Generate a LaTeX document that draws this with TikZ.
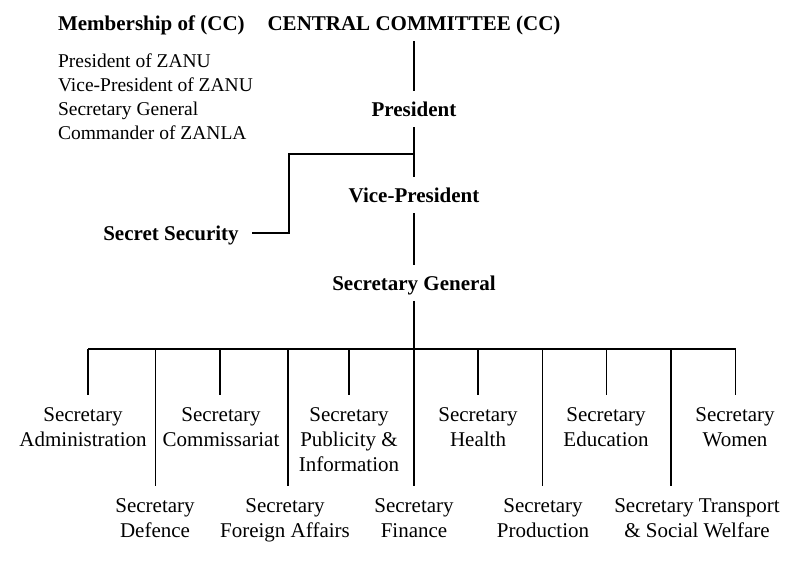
\documentclass[tikz,border=0pt]{standalone}
\usepackage{fontspec}
\setmainfont{Liberation Serif}
\usetikzlibrary{calc,positioning}
\tikzset{
	head/.style={font=\bfseries\fontsize{21}{24}\selectfont, anchor=base, text height=14.5pt, text depth=0pt, inner xsep=2pt, inner ysep=10pt},
	post/.style={font=\fontsize{21}{25}\selectfont, align=center, anchor=north, inner xsep=2pt, inner ysep=12pt},
	member/.style={font=\fontsize{19.5}{24}\selectfont, align=left, anchor=north west, inner sep=0pt},
}

\begin{document}
\begin{tikzpicture}[x=1pt, y=-1pt, line width=1.5pt]
		\useasboundingbox (0,0) rectangle (800,563);

		% membership list
		\node[head, anchor=base west, inner xsep=0pt] (mem) at (57.3,30) {Membership of (CC)};
		\node[member] (list) at (57.3,53.5) {President of ZANU\\Vice-President of ZANU\\Secretary General\\Commander of ZANLA};

		% top of the chain
		\node[head] (cc) at (414,30.7) {CENTRAL COMMITTEE (CC)};
		\node[head] (pres) at (414,116.7) {President};
		\node[head] (vp) at (414,202.7) {Vice-President};
		\node[head] (sg) at (414,290) {Secretary General};
		\node[head, inner xsep=12.7pt] (secsec) at (171,240) {Secret Security};

		\coordinate (fork) at (414,154);
		\draw (cc.south) -- (pres.north);
		\draw (pres.south) -- (vp.north);
		\draw (vp.south) -- (sg.north);
		\draw (secsec.east) -| ($(fork)+(-125,0)$) -- (fork);

		% secretaries
		\node[post] (admin) at (83,394.7) {Secretary\\Administration};
		\node[post] (comm) at (221,394.7) {Secretary\\Commissariat};
		\node[post] (pub) at (349,394.7) {Secretary\\Publicity \&\\Information};
		\node[post] (health) at (478,394.7) {Secretary\\Health};
		\node[post] (edu) at (606,394.7) {Secretary\\Education};
		\node[post] (women) at (735,394.7) {Secretary\\Women};
		\node[post] (def) at (155,486.3) {Secretary\\Defence};
		\node[post] (fa) at (285,486.3) {Secretary\\Foreign Affairs};
		\node[post] (fin) at (414,486.3) {Secretary\\Finance};
		\node[post] (prod) at (543,486.3) {Secretary\\Production};
		\node[post] (trans) at (697,486.3) {Secretary Transport\\\& Social Welfare};

		\coordinate (t1) at (88,349);
		\coordinate (t2) at (155.7,349);
		\coordinate (t3) at (220,349);
		\coordinate (t4) at (288,349);
		\coordinate (t5) at (349,349);
		\coordinate (t6) at (478,349);
		\coordinate (t7) at (542.7,349);
		\coordinate (t8) at (606.7,349);
		\coordinate (t9) at (671,349);
		\coordinate (t10) at (735.7,349);

		\draw (sg.south) -- (fin.north);
		\draw (t1) -- (t10);
		\draw (t1) -- (t1 |- admin.north)
		(t2) -- (t2 |- def.north)
		(t3) -- (t3 |- comm.north)
		(t4) -- (t4 |- fa.north)
		(t5) -- (t5 |- pub.north)
		(t6) -- (t6 |- health.north)
		(t7) -- (t7 |- prod.north)
		(t8) -- (t8 |- edu.north)
		(t9) -- (t9 |- trans.north)
		(t10) -- (t10 |- women.north);
	\end{tikzpicture}
\end{document}
